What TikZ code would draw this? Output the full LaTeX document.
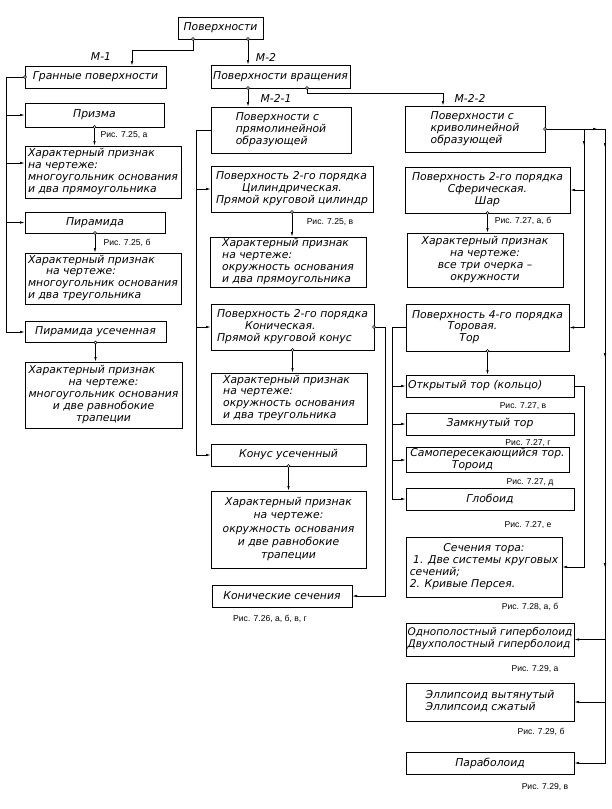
\documentclass[tikz,border=0pt]{standalone}
\usepackage{fontspec}
\setmainfont{DejaVu Sans}[ItalicFont={DejaVu Sans Oblique}]
\newfontfamily\labfont{Liberation Sans}
\usetikzlibrary{arrows.meta}
\newcommand\mc[1]{\multicolumn{1}{@{}c@{}}{#1}}
\newcommand\tb[1]{\begin{tabular}{@{}l@{}}#1\end{tabular}}
\newcommand\bx[6]{\node[box,minimum width=#4pt,minimum height=#5pt] (#1) at (#2,#3) {#6};}
\newcommand\dt[1]{\draw[line width=0.6pt,fill=white] (#1) circle (1.5pt);}
\begin{document}
\begin{tikzpicture}[x=1pt,y=-1pt,
  box/.style={draw,line width=0.9pt,outer sep=0pt,inner sep=1pt,
    font=\fontsize{10.8}{11.8}\selectfont\itshape},
  arr/.style={line width=0.75pt,-{Latex[length=5pt,width=2.4pt]}},
  mk/.style={line width=0.75pt,-{Latex[length=5pt,width=2.4pt]}},
  mlab/.style={font=\fontsize{10.8}{12}\selectfont\itshape,inner sep=0pt},
  rlab/.style={font=\labfont\fontsize{8.6}{10}\selectfont,inner sep=0pt}]
\useasboundingbox (0,0) rectangle (612,809);
\fill[white] (0,0) rectangle (612,809);
% ---- boxes ----
\bx{pov}{220.5}{28}{85}{22}{Поверхности}
\bx{gran}{95.5}{77}{141}{22}{Гранные поверхности}
\bx{prizma}{94.5}{115}{139}{24}{Призма}
\bx{ch1}{103}{172}{156}{52}{\tb{Характерный признак\\на чертеже:\\многоугольник основания\\и два прямоугольника}}
\bx{piram}{95}{222.5}{140}{21}{Пирамида}
\bx{ch2}{103}{278.5}{156}{51}{\tb{Характерный признак\\\hspace*{18pt}на чертеже:\\многоугольник основания\\и два треугольника}}
\bx{pirus}{95.5}{332}{141}{21}{Пирамида усеченная}
\bx{ch3}{103.5}{395}{157}{66}{\tb{Характерный признак\\\mc{на чертеже:}\\многоугольник основания\\\mc{и две равнобокие}\\\mc{трапеции}}}
\bx{vrash}{280.5}{76.5}{139}{23}{Поверхности вращения}
\bx{pryam}{281}{130}{140}{46}{\tb{Поверхности с\\прямолинейной\\образующей}}
\bx{cyl}{292}{189}{162}{46}{\tb{Поверхность 2-го порядка\\\mc{Цилиндрическая.}\\Прямой круговой цилиндр}}
\bx{chcyl}{288}{262}{156}{50}{\tb{Характерный признак\\на чертеже:\\окружность основания\\и два прямоугольника}}
\bx{con}{292.5}{327}{163}{46}{\tb{Поверхность 2-го порядка\\\hspace*{28pt}Коническая.\\Прямой круговой конус}}
\bx{chcon}{289}{398.5}{156}{51}{\tb{Характерный признак\\на чертеже:\\окружность основания\\и два треугольника}}
\bx{conus}{288.5}{455}{155}{22}{Конус усеченный}
\bx{ch4}{288.5}{529.5}{155}{77}{\renewcommand\arraystretch{1.12}\begin{tabular}{@{}c@{}}Характерный признак\\на чертеже:\\окружность основания\\и две равнобокие\\трапеции\end{tabular}}
\bx{consec}{282}{596}{140}{22}{Конические сечения}
\bx{kriv}{475}{129}{140}{46}{\tb{Поверхности с\\криволинейной\\образующей}}
\bx{shar}{487.5}{190}{165}{46}{\tb{Поверхность 2-го порядка\\\mc{Сферическая.}\\\mc{Шар}}}
\bx{chshar}{485}{260}{156}{54}{\tb{Характерный признак\\\mc{на чертеже:}\\\mc{все три очерка –}\\\mc{окружности}}}
\bx{tor}{487.5}{327.5}{163}{47}{\tb{Поверхность 4-го порядка\\\mc{Торовая.\hspace*{30pt}}\\\mc{Тор\hspace*{36pt}}}}
\node[box,minimum width=168pt,minimum height=22pt,text width=164pt,align=left] (otkr) at (490,386) {Открытый тор (кольцо)};
\bx{zamk}{490}{424}{168}{22}{Замкнутый тор}
\bx{samop}{487.5}{460}{163}{24}{\renewcommand\arraystretch{0.92}\tb{Самопересекающийся тор.\\\mc{Тороид\hspace*{30pt}}}}
\bx{glob}{490}{499}{168}{22}{Глобоид}
\bx{sech}{484}{567}{156}{60}{\tb{\mc{Сечения тора:}\\\ 1. Две системы круговых\\сечений;\\2. Кривые Персея.}}
\node[box,minimum width=168pt,minimum height=33pt,font=\fontsize{10.5}{11.8}\selectfont\itshape] (hyp) at (490,639.5) {\tb{Однополостный гиперболоид\\Двухполостный гиперболоид}};
\bx{ell}{490}{702}{168}{38}{\tb{Эллипсоид вытянутый\\Эллипсоид сжатый}}
\bx{parab}{490}{763}{168}{22}{Параболоид}
% ---- labels ----
\node[mlab] (m1) at (101,57) {М-1};
\node[mlab] (m2) at (266,57) {М-2};
\node[mlab] (m21) at (276,98) {М-2-1};
\node[mlab] (m22) at (470,98) {М-2-2};
\node[rlab] (r1) at (124,135) {Рис. 7.25, а};
\node[rlab] (r2) at (127,243) {Рис. 7.25, б};
\node[rlab] (r3) at (330,222) {Рис. 7.25, в};
\node[rlab] (r4) at (270,619) {Рис. 7.26, а, б, в, г};
\node[rlab] (r5) at (523,221) {Рис. 7.27, а, б};
\node[rlab] (r6) at (523,406) {Рис. 7.27, в};
\node[rlab] (r7) at (528,443) {Рис. 7.27, г};
\node[rlab] (r8) at (530,482) {Рис. 7.27, д};
\node[rlab] (r9) at (528,525) {Рис. 7.27, е};
\node[rlab] (r10) at (530,607) {Рис. 7.28, а, б};
\node[rlab] (r11) at (535,669) {Рис. 7.29, а};
\node[rlab] (r12) at (541,732) {Рис. 7.29, б};
\node[rlab] (r13) at (545,787) {Рис. 7.29, в};
% ---- bus coordinates ----
\coordinate (busL) at (6,77);
\coordinate (busM) at (196,130);
\coordinate (busT) at (392,327.5);
\coordinate (busC) at (385,327);
\coordinate (busRi) at (584,129);
\coordinate (busR) at (605,129);
\coordinate (busO) at (584,386);
% ---- connectors ----
\draw[arr] ([xshift=15pt]pov.south west) -- ++(0,11) -| ([xshift=107pt]gran.north west);
\draw[arr] ([xshift=70pt]pov.south west) -- ([xshift=37pt]vrash.north west);
\draw[arr] (gran.west) -- (busL) |- (pirus.west);
\draw[arr] (busL |- prizma.west) -- (prizma.west);
\draw[arr] (busL |- 0,163) -- ([yshift=9pt]ch1.west);
\draw[arr] (busL |- piram.west) -- (piram.west);
\draw[arr] (prizma.south) -- (prizma.south |- ch1.north);
\draw[arr] (piram.south) -- (piram.south |- ch2.north);
\draw[arr] (pirus.south) -- (pirus.south |- ch3.north);
\draw[arr] ([xshift=37pt]vrash.south west) -- ([xshift=37pt]vrash.south west |- pryam.north);
\draw[arr] ([xshift=96pt]vrash.south west) -- ++(0,5) -| ([xshift=38pt]kriv.north west);
\draw[arr] (pryam.west) -- (busM) |- (conus.west);
\draw[arr] (busM |- cyl.west) -- (cyl.west);
\draw[arr] (busM |- con.west) -- (con.west);
\draw[arr] (cyl.south) -- (cyl.south |- chcyl.north);
\draw[arr] (con.south) -- (con.south |- chcon.north);
\draw[arr] (conus.south) -- (conus.south |- ch4.north);
\draw[arr] (con.east) -- (busC) |- (consec.east);
\draw[arr] (kriv.east) -- (busR) |- (parab.east);
\draw[arr] (busR |- hyp.east) -- (hyp.east);
\draw[arr] (busR |- ell.east) -- (ell.east);
\draw[arr] (busRi) |- (tor.east);
\draw[arr] (busRi |- shar.east) -- (shar.east);
\draw[arr] (shar.south) -- (shar.south |- chshar.north);
\draw[arr] (tor.west) -- (busT) |- (glob.west);
\draw[arr] (busT |- otkr.west) -- (otkr.west);
\draw[arr] (busT |- zamk.west) -- (zamk.west);
\draw[arr] (busT |- samop.west) -- (samop.west);
\draw[arr] (tor.south) -- (tor.south |- otkr.north);
\draw[arr] (otkr.east) -- (busO) |- (sech.east);
% ---- bus markers ----
\draw[mk] (busRi) ++(6,0) -- ++(8,0);
\draw[mk] (busR) ++(0,10) -- ++(0,9);
\draw[mk] (busR) ++(0,220) -- ++(0,9);
\draw[mk] (busR) ++(0,430) -- ++(0,9);
\draw[mk] (busRi) ++(0,8) -- ++(0,9);
% ---- dots ----
\dt{[xshift=15pt]pov.south west}
\dt{[xshift=70pt]pov.south west}
\dt{gran.west}
\dt{prizma.south}
\dt{piram.south}
\dt{pirus.south}
\dt{[xshift=37pt]vrash.south west}
\dt{[xshift=96pt]vrash.south west}
\dt{cyl.south}
\dt{con.south}
\dt{con.east}
\dt{conus.south}
\dt{kriv.east}
\dt{shar.south}
\dt{tor.south}
\end{tikzpicture}
\end{document}
